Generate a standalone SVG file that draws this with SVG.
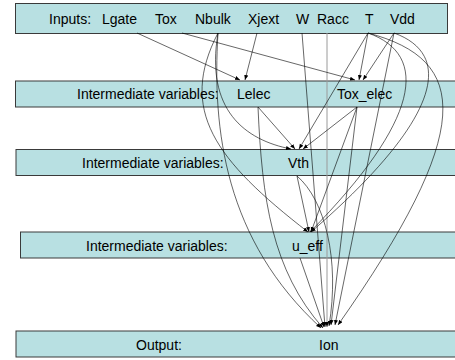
<svg xmlns="http://www.w3.org/2000/svg" width="455" height="360" viewBox="0 0 455 360">
<style>
.box{fill:#b8e0e2;stroke:#3a3a3a;stroke-width:1}
.t{font-family:"Liberation Sans",Arial,sans-serif;font-size:14px;fill:#000}
.e{fill:none;stroke:#000;stroke-width:0.6;marker-end:url(#ah)}
.g{fill:none;stroke:#9a9a9a;stroke-width:1;marker-end:url(#ah)}
</style>
<defs>
<marker id="ah" markerUnits="userSpaceOnUse" markerWidth="6" markerHeight="5" refX="5" refY="2" orient="auto">
<path d="M0,0 L5,2 L0,4 z" fill="#000"/>
</marker>
</defs>
<rect x="0" y="0" width="455" height="360" fill="#fff"/>
<g id="inputs">
<rect class="box" x="15.5" y="3.5" width="432" height="30"/>
<text class="t" x="49" y="24">Inputs:</text>
<text class="t" x="102" y="24">Lgate</text>
<text class="t" x="155" y="24">Tox</text>
<text class="t" x="195" y="24">Nbulk</text>
<text class="t" x="248" y="24">Xjext</text>
<text class="t" x="296" y="24">W</text>
<text class="t" x="317" y="24">Racc</text>
<text class="t" x="365" y="24">T</text>
<text class="t" x="390" y="24">Vdd</text>
</g>
<g id="inter1">
<rect class="box" x="15.5" y="81" width="450" height="26"/>
<text class="t" x="77" y="99">Intermediate variables:</text>
<text class="t" x="237" y="99">Lelec</text>
<text class="t" x="337" y="99">Tox_elec</text>
</g>
<g id="inter2">
<rect class="box" x="16" y="149.5" width="450" height="26"/>
<text class="t" x="82" y="168">Intermediate variables:</text>
<text class="t" x="288" y="168">Vth</text>
</g>
<g id="inter3">
<rect class="box" x="20.5" y="232" width="450" height="26"/>
<text class="t" x="86" y="250.5">Intermediate variables:</text>
<text class="t" x="292" y="250.5">u_eff</text>
</g>
<g id="output">
<rect class="box" x="16" y="331" width="450" height="26"/>
<text class="t" x="136" y="349.5">Output:</text>
<text class="t" x="319" y="349.5">Ion</text>
</g>
<g id="connectors">
<path class="g" d="M327,33 L327,327"/>
<path class="e" d="M137,33 L240,80"/>
<path class="e" d="M257,33 L245,80"/>
<path class="e" d="M182,33 L355,80"/>
<path class="e" d="M368,33 L359,80"/>
<path class="e" d="M394,33 L363,80"/>
<path class="e" d="M218,33 C205,110 245,140 291,149"/>
<path class="e" d="M258,107 L295,149"/>
<path class="e" d="M368,33 L299,149"/>
<path class="e" d="M357,107 L303,149"/>
<path class="e" d="M218,33 C178,110 215,160 308,232"/>
<path class="e" d="M297,176 L309,232"/>
<path class="e" d="M357,107 L311,232"/>
<path class="e" d="M368,33 C430,55 420,120 310,232"/>
<path class="e" d="M394,33 C455,55 440,120 311,232"/>
<path class="e" d="M218,33 C212,130 225,240 321,328"/>
<path class="e" d="M258,107 C262,200 272,270 323,328"/>
<path class="e" d="M302,33 L325,327"/>
<path class="e" d="M297,176 C325,200 340,260 329,326"/>
<path class="e" d="M300,258 L324,327"/>
<path class="e" d="M357,107 L331,325"/>
<path class="e" d="M368,33 C470,60 475,130 338,325"/>
<path class="e" d="M394,33 L335,325"/>
</g>
</svg>
